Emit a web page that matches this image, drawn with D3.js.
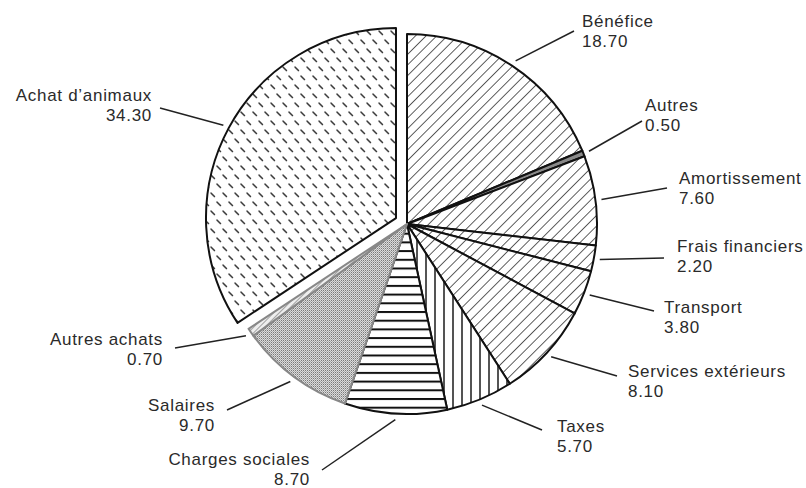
<!DOCTYPE html>
<html>
<head>
<meta charset="utf-8">
<script src="https://cdn.jsdelivr.net/npm/d3@7"></script>
<style>
  html, body { margin: 0; padding: 0; background: #fff; }
  svg { display: block; }
  text { font-family: "Liberation Sans", Arial, Helvetica, sans-serif; font-size: 17px; letter-spacing: 0.7px; fill: #2a2a2a; }
</style>
</head>
<body>
<svg id="chart" width="806" height="488"></svg>
<script>
// Répartition des coûts et du bénéfice (en %)
const categories = ["Bénéfice", "Autres", "Amortissement", "Frais financiers", "Transport",
  "Services extérieurs", "Taxes", "Charges sociales", "Salaires", "Autres achats", "Achat d’animaux"];
const values = [18.7, 0.5, 7.6, 2.2, 3.8, 8.1, 5.7, 8.7, 9.7, 0.7, 34.3];
const valueLabels = ["18.70", "0.50", "7.60", "2.20", "3.80", "8.10", "5.70", "8.70", "9.70", "0.70", "34.30"];

// Fill pattern per slice and which slice is pulled out
const fills = ["diag", "solidGrey", "diag", "diag", "diag", "diag", "vert", "horiz", "stipple", "diagLight", "dashes"];
const exploded = [false, false, false, false, false, false, false, false, false, false, true];

// Label placement: text anchor point, alignment, leader end point
const labelLayout = [
  { x: 582, y: 27, anchor: "start", lx: 574, ly: 31 },
  { x: 645, y: 111, anchor: "start", lx: 642, ly: 121 },
  { x: 679, y: 184, anchor: "start", lx: 667, ly: 188 },
  { x: 677, y: 252, anchor: "start", lx: 664, ly: 258 },
  { x: 664, y: 313, anchor: "start", lx: 654, ly: 311 },
  { x: 628, y: 377, anchor: "start", lx: 617, ly: 376 },
  { x: 557, y: 432, anchor: "start", lx: 542, ly: 430 },
  { x: 310, y: 465, anchor: "end", lx: 322, ly: 470 },
  { x: 215, y: 411, anchor: "end", lx: 227, ly: 410 },
  { x: 163, y: 345, anchor: "end", lx: 175, ly: 348 },
  { x: 152, y: 101, anchor: "end", lx: 160, ly: 108 }
];

const svg = d3.select("#chart");
const cx = 407, cy = 224, radius = 190, explodeBy = 12.5;

// ---- patterns ----
const defs = svg.append("defs");

const diag = defs.append("pattern").attr("id", "diag").attr("patternUnits", "userSpaceOnUse")
  .attr("width", 7.5).attr("height", 7.5).attr("patternTransform", "rotate(45)");
diag.append("rect").attr("width", 7.5).attr("height", 7.5).attr("fill", "#fff");
diag.append("line").attr("x1", 0).attr("y1", 0).attr("x2", 0).attr("y2", 7.5)
  .attr("stroke", "#1a1a1a").attr("stroke-width", 1.4);

const diagLight = defs.append("pattern").attr("id", "diagLight").attr("patternUnits", "userSpaceOnUse")
  .attr("width", 4).attr("height", 4).attr("patternTransform", "rotate(45)");
diagLight.append("rect").attr("width", 4).attr("height", 4).attr("fill", "#eee");
diagLight.append("line").attr("x1", 0).attr("y1", 0).attr("x2", 0).attr("y2", 4)
  .attr("stroke", "#777").attr("stroke-width", 1.3);

const vert = defs.append("pattern").attr("id", "vert").attr("patternUnits", "userSpaceOnUse")
  .attr("width", 9).attr("height", 9);
vert.append("rect").attr("width", 9).attr("height", 9).attr("fill", "#fff");
vert.append("line").attr("x1", 1).attr("y1", 0).attr("x2", 1).attr("y2", 9)
  .attr("stroke", "#1a1a1a").attr("stroke-width", 1.5);

const horiz = defs.append("pattern").attr("id", "horiz").attr("patternUnits", "userSpaceOnUse")
  .attr("width", 9).attr("height", 8.7);
horiz.append("rect").attr("width", 9).attr("height", 8.7).attr("fill", "#fff");
horiz.append("line").attr("x1", 0).attr("y1", 1).attr("x2", 9).attr("y2", 1)
  .attr("stroke", "#111").attr("stroke-width", 2);

const stipple = defs.append("pattern").attr("id", "stipple").attr("patternUnits", "userSpaceOnUse")
  .attr("width", 2).attr("height", 2);
stipple.append("rect").attr("width", 2).attr("height", 2).attr("fill", "#dcdcdc");
stipple.append("rect").attr("width", 1).attr("height", 1).attr("fill", "#7a7a7a");
stipple.append("rect").attr("x", 1).attr("y", 1).attr("width", 1).attr("height", 1).attr("fill", "#aaa");

const dashes = defs.append("pattern").attr("id", "dashes").attr("patternUnits", "userSpaceOnUse")
  .attr("width", 12).attr("height", 18);
dashes.append("rect").attr("width", 12).attr("height", 18).attr("fill", "#fff");
[[1, 2], [7, 11]].forEach(([x, y]) => {
  dashes.append("line").attr("x1", x).attr("y1", y).attr("x2", x + 3.5).attr("y2", y + 3.5)
    .attr("stroke", "#333").attr("stroke-width", 1.5).attr("stroke-linecap", "round");
});

const solidGrey = defs.append("pattern").attr("id", "solidGrey").attr("patternUnits", "userSpaceOnUse")
  .attr("width", 4).attr("height", 4);
solidGrey.append("rect").attr("width", 4).attr("height", 4).attr("fill", "#8a8a8a");

// ---- pie ----
const pie = d3.pie().sort(null).value(d => d.value).startAngle(0).endAngle(2 * Math.PI);
const rows = categories.map((c, i) => ({ name: c, value: values[i], label: valueLabels[i], i }));
const arcs = pie(rows);

const arc = d3.arc().innerRadius(0).outerRadius(radius);
const outerPoint = d3.arc().innerRadius(radius + 6).outerRadius(radius + 6);

function offset(d) {
  if (!exploded[d.data.i]) return [0, 0];
  const a = (d.startAngle + d.endAngle) / 2;
  return [Math.sin(a) * explodeBy, -Math.cos(a) * explodeBy];
}

const g = svg.append("g").attr("transform", `translate(${cx},${cy})`);

g.selectAll("path.slice")
  .data(arcs)
  .join("path")
  .attr("class", "slice")
  .attr("transform", d => `translate(${offset(d)})`)
  .attr("d", arc)
  .attr("fill", d => `url(#${fills[d.data.i]})`)
  .attr("stroke", d => (fills[d.data.i] === "stipple" || fills[d.data.i] === "diagLight") ? "#888" : "#111")
  .attr("stroke-width", 2)
  .attr("stroke-linejoin", "round");

// ---- leader lines ----
g.selectAll("line.leader")
  .data(arcs)
  .join("line")
  .attr("class", "leader")
  .each(function (d) {
    const [ox, oy] = offset(d);
    const a = (d.startAngle + d.endAngle) / 2;
    const L = labelLayout[d.data.i];
    d3.select(this)
      .attr("x1", Math.sin(a) * (radius + 6) + ox)
      .attr("y1", -Math.cos(a) * (radius + 6) + oy)
      .attr("x2", L.lx - cx)
      .attr("y2", L.ly - cy);
  })
  .attr("stroke", "#222")
  .attr("stroke-width", 1.5);

// ---- labels ----
const labels = svg.append("g");
arcs.forEach(d => {
  const L = labelLayout[d.data.i];
  labels.append("text").attr("x", L.x).attr("y", L.y).attr("text-anchor", L.anchor).text(d.data.name);
  labels.append("text").attr("x", L.x).attr("y", L.y + 20).attr("text-anchor", L.anchor).text(d.data.label);
});
</script>
</body>
</html>
